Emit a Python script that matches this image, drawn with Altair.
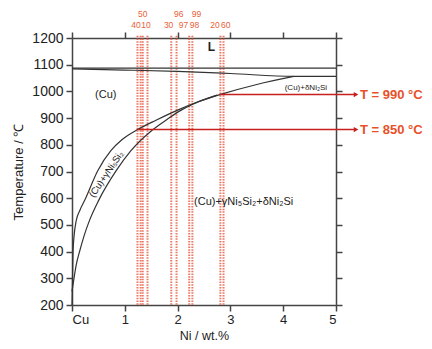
import altair as alt
import pandas as pd

# ---- phase-boundary curves (Ni wt.%, Temperature °C) ----
liq_ni = [0, 5]
liq_t = [1087, 1087]
sol_ni = [0, 1, 2, 3, 4.2, 5]
sol_t = [1084, 1080, 1075, 1067, 1056, 1056]
solvA_ni = [0, 0.01, 0.02, 0.04, 0.08, 0.15, 0.24, 0.49, 0.74, 0.95, 1.24, 1.6, 2.0, 2.4, 2.8, 3.5, 4.2]
solvA_t = [200, 300, 400, 460, 516, 555, 592, 704, 779, 820, 857, 893, 930, 962, 988, 1026, 1056]
solvB_ni = [0, 0.03, 0.08, 0.15, 0.23, 0.33, 0.5, 0.84, 1.12, 1.5, 1.8, 2.06, 2.3, 2.55, 2.75]
solvB_t = [250, 290, 350, 405, 460, 516, 590, 704, 779, 852, 895, 929, 953, 973, 986]

# ---- sample compositions (red dashed lines) ----
sample_ni = [1.24, 1.30, 1.34, 1.43, 1.88, 1.98, 2.22, 2.28, 2.81, 2.87]
lbl_text = ["50", "40", "10", "96", "30", "97", "99", "98", "20", "60"]
lbl_ni = [1.34, 1.21, 1.40, 2.02, 1.83, 2.11, 2.36, 2.32, 2.71, 2.91]
lbl_t = [1289, 1248, 1248, 1289, 1248, 1248, 1289, 1248, 1248, 1248]

# ---- isotherm arrows ----
arrow_t = [988, 857]
arrow_start = [2.8, 1.24]
arrow_end = [5.38, 5.38]
arrow_text = ["T = 990 °C", "T = 850 °C"]

# ---- phase labels ----
phase_text = ["(Cu)", "(Cu)+γNi₅Si₂+δNi₂Si"]
phase_ni = [0.64, 3.25]
phase_t = [985, 585]

FONT = "Liberation Sans"
X_SCALE = alt.Scale(domain=[0, 5], nice=False)
Y_SCALE = alt.Scale(domain=[200, 1200], nice=False)

def curve_df(name, xs, ts):
    return pd.DataFrame({"ni": xs, "t": ts, "curve": name, "ord": list(range(len(xs)))})

curves_df = pd.concat([
    curve_df("liq", liq_ni, liq_t),
    curve_df("sol", sol_ni, sol_t),
    curve_df("A", solvA_ni, solvA_t),
    curve_df("B", solvB_ni, solvB_t),
], ignore_index=True)

axis_common = dict(domainColor="#444", domainWidth=1.5, tickColor="#444", tickWidth=1.5,
                   tickSize=6, grid=False, labelFont=FONT, labelColor="#222",
                   titleFont=FONT, titleColor="#222", titleFontWeight="normal")

curves = alt.Chart(curves_df).mark_line(color="#333", strokeWidth=1.2, interpolate="monotone").encode(
    x=alt.X("ni:Q", scale=X_SCALE, axis=alt.Axis(
        orient="bottom", values=[0, 1, 2, 3, 4, 5],
        labelExpr="datum.value == 0 ? 'Cu' : datum.label",
        labelFontSize=13, labelPadding=2, title="Ni / wt.%", titleFontSize=12.5,
        titleY=34, titleBaseline="alphabetic", **axis_common)),
    y=alt.Y("t:Q", scale=Y_SCALE, axis=alt.Axis(
        orient="left", values=list(range(200, 1201, 100)), format="d",
        labelFontSize=14, labelPadding=3, title="Temperature / ℃", titleFontSize=13,
        titlePadding=6, **axis_common)),
    detail="curve:N",
    order="ord:Q",
)

frame = alt.Chart(pd.DataFrame({"ni": [0], "t": [200]})).mark_point(opacity=0).encode(
    x=alt.X("ni:Q", scale=X_SCALE, axis=alt.Axis(
        orient="top", values=[0, 1, 2, 3, 4, 5], labels=False, title=None, **axis_common)),
    y=alt.Y("t:Q", scale=Y_SCALE, axis=alt.Axis(
        orient="right", values=list(range(200, 1201, 100)), labels=False, title=None, **axis_common)),
)

samples_df = pd.DataFrame({"ni": sample_ni, "top": [1208] * len(sample_ni), "bottom": [200] * len(sample_ni)})
samples = alt.Chart(samples_df).mark_rule(color="#E8604A", strokeWidth=2, strokeDash=[1.5, 1.2], opacity=0.85).encode(
    x=alt.X("ni:Q", scale=X_SCALE, axis=None),
    y=alt.Y("top:Q", scale=Y_SCALE, axis=None),
    y2="bottom:Q",
)

labels_df = pd.DataFrame({"label": lbl_text, "ni": lbl_ni, "t": lbl_t})
labels = alt.Chart(labels_df).mark_text(color="#E8603A", fontSize=8.5, font=FONT, baseline="middle").encode(
    x=alt.X("ni:Q", scale=X_SCALE, axis=None),
    y=alt.Y("t:Q", scale=Y_SCALE, axis=None),
    text="label:N",
)

arrows_df = pd.DataFrame({"t": arrow_t, "x0": arrow_start, "x1": arrow_end, "label": arrow_text})
arrow_lines = alt.Chart(arrows_df).mark_rule(color="#C8201E", strokeWidth=1.5).encode(
    x=alt.X("x0:Q", scale=X_SCALE, axis=None),
    x2="x1:Q",
    y=alt.Y("t:Q", scale=Y_SCALE, axis=None),
)
arrow_heads = alt.Chart(arrows_df).mark_point(shape="triangle-right", filled=True, color="#C8201E",
                                              size=28, opacity=1).encode(
    x=alt.X("x1:Q", scale=X_SCALE, axis=None),
    y=alt.Y("t:Q", scale=Y_SCALE, axis=None),
)
arrow_labels = alt.Chart(arrows_df).mark_text(color="#E8502A", fontSize=13, fontWeight="bold", font=FONT,
                                              align="left", baseline="middle", dx=4).encode(
    x=alt.X("x1:Q", scale=X_SCALE, axis=None),
    y=alt.Y("t:Q", scale=Y_SCALE, axis=None),
    text="label:N",
)

phase_df = pd.DataFrame({"label": phase_text, "ni": phase_ni, "t": phase_t})
phases = alt.Chart(phase_df).mark_text(color="#222", fontSize=11, font=FONT, baseline="middle").encode(
    x=alt.X("ni:Q", scale=X_SCALE, axis=None),
    y=alt.Y("t:Q", scale=Y_SCALE, axis=None),
    text="label:N",
)

liquid = alt.Chart(pd.DataFrame({"label": ["L"], "ni": [2.64], "t": [1165]})).mark_text(
    color="#222", fontSize=12, fontWeight="bold", font=FONT, baseline="middle").encode(
    x=alt.X("ni:Q", scale=X_SCALE, axis=None),
    y=alt.Y("t:Q", scale=Y_SCALE, axis=None),
    text="label:N",
)

delta = alt.Chart(pd.DataFrame({"label": ["(Cu)+δNi₂Si"], "ni": [4.43], "t": [1013]})).mark_text(
    color="#222", fontSize=8, font=FONT, baseline="middle").encode(
    x=alt.X("ni:Q", scale=X_SCALE, axis=None),
    y=alt.Y("t:Q", scale=Y_SCALE, axis=None),
    text="label:N",
)

gamma = alt.Chart(pd.DataFrame({"label": ["(Cu)+γNi₅Si₂"], "ni": [0.65], "t": [690]})).mark_text(
    color="#222", fontSize=9.5, font=FONT, baseline="middle", angle=304).encode(
    x=alt.X("ni:Q", scale=X_SCALE, axis=None),
    y=alt.Y("t:Q", scale=Y_SCALE, axis=None),
    text="label:N",
)

chart = alt.layer(
    frame, samples, curves, labels, arrow_lines, arrow_heads, arrow_labels, phases, liquid, delta, gamma
).resolve_axis(x="independent", y="independent").properties(
    width=264, height=267,
    padding={"left": 64, "top": 30, "right": 88, "bottom": 36},
    autosize=alt.AutoSizeParams(type="none"),
).configure_view(strokeWidth=0)

chart.save("out.html", embed_options={"renderer": "svg", "actions": False})
